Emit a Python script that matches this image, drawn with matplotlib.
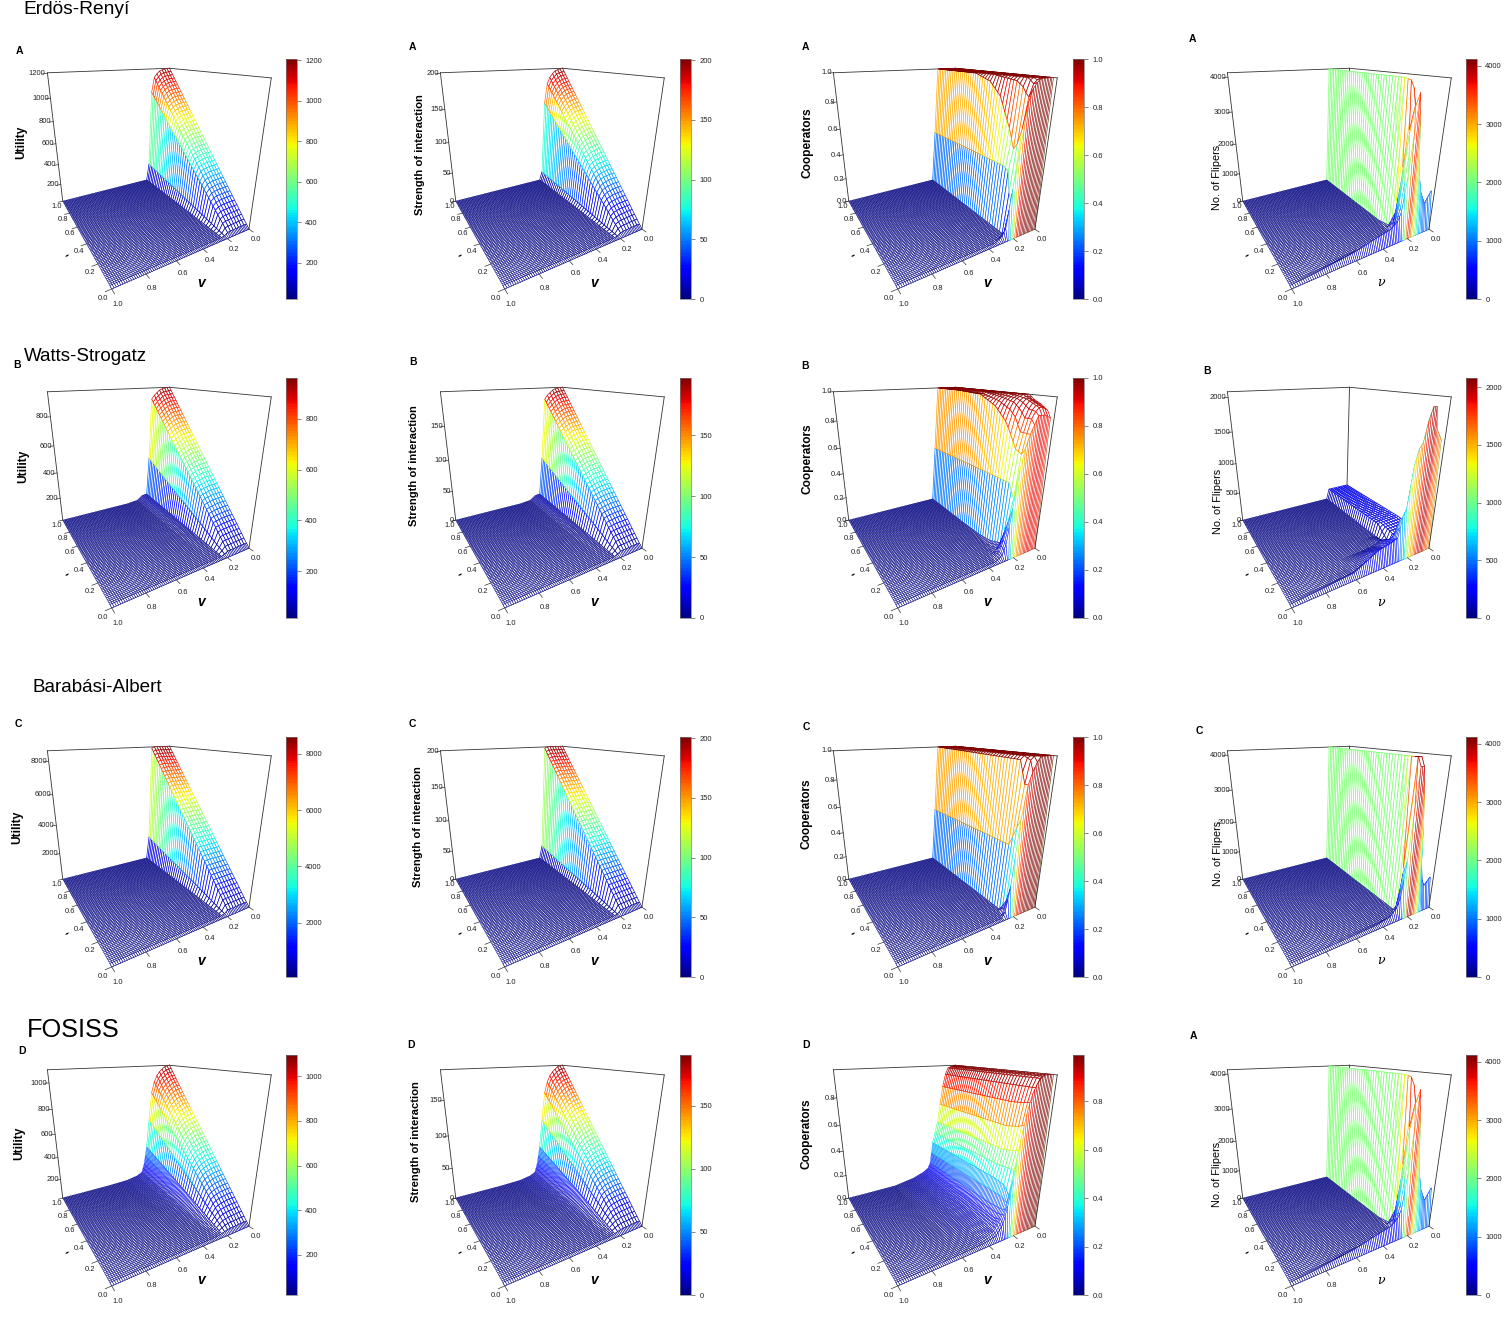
import numpy as np
import matplotlib
matplotlib.use("Agg")
import matplotlib.pyplot as plt
from matplotlib import colormaps
from matplotlib.cm import ScalarMappable
from matplotlib.colors import Normalize
from mpl_toolkits.mplot3d.art3d import Poly3DCollection

plt.rcParams["font.family"] = ["Liberation Sans", "DejaVu Sans"]

W, H = 1505, 1343

# values, in percent of each panel's z range.
# rows are lambda, columns are VK. The mesh is filled between these rows.
VK = [0, .05, .075, .1, .125, .15, .175, .2, .225, .25, .275, .325, .425, .6, .85, 1]

LAM_ER_UTIL = [0, 1]
ER_UTIL = [[0] * 16,
           [100, 99.5, 99, 98, 96, 93, 81, 16, 0, 0, 0, 0, 0, 0, 0, 0]]
LAM_ER_STR = [0, 1]
ER_STR = [[0] * 16,
          [100, 99, 98, 96, 93, 88, 72, 8, 0, 0, 0, 0, 0, 0, 0, 0]]
LAM_WS_UTIL = [0, 1]
WS_UTIL = [[0] * 16,
           [100, 99.5, 99, 98, 96, 94, 91, 40, 5, 5, 4.5, 1, 0, 0, 0, 0]]
LAM_BA_UTIL = [0, 1]
BA_UTIL = [[0] * 16,
           [100, 100, 100, 100, 100, 100, 99, 21, 0, 0, 0, 0, 0, 0, 0, 0]]
LAM_BA_STR = [0, 1]
BA_STR = [[0] * 16,
          [100, 100, 100, 100, 100, 100, 99, 12, 0, 0, 0, 0, 0, 0, 0, 0]]
LAM_FO_UTIL = [0, 1]
FO_UTIL = [[0] * 16,
           [100, 99, 97, 95, 92, 87, 78, 55, 30, 14, 6, 3.5, 1.5, .7, .3, .2]]

LAM_ER_COOP = [0, .025, .05, .075, .1, .15, .25, .35, .5, 1]
ER_COOP = [[0] * 16,
           [100, 100, 100, 100, 98, 95, 88, 60, 35, 8, 3, 0, 0, 0, 0, 0],
           [100, 100, 100, 99, 97, 90, 72, 25, 3, 0, 0, 0, 0, 0, 0, 0],
           [100, 100, 100, 100, 99, 92, 62, 30, 0, 0, 0, 0, 0, 0, 0, 0],
           [100, 100, 100, 100, 100, 95, 58, 44, 0, 0, 0, 0, 0, 0, 0, 0],
           [100, 100, 100, 100, 100, 98, 70, 46, 0, 0, 0, 0, 0, 0, 0, 0],
           [100, 100, 100, 100, 100, 99, 88, 46, 0, 0, 0, 0, 0, 0, 0, 0],
           [100, 100, 100, 100, 100, 100, 96, 46, 0, 0, 0, 0, 0, 0, 0, 0],
           [100, 100, 100, 100, 100, 100, 100, 46, 0, 0, 0, 0, 0, 0, 0, 0],
           [100, 100, 100, 100, 100, 100, 100, 46, 0, 0, 0, 0, 0, 0, 0, 0]]
LAM_WS_COOP = [0, .025, .05, .1, .15, .2, .3, .45, .7, 1]
WS_COOP = [[0] * 16,
           [88, 90, 90, 90, 85, 80, 72, 60, 35, 10, 3, 0, 0, 0, 0, 0],
           [92, 94, 94, 92, 88, 80, 68, 40, 25, 12, 4, 0, 0, 0, 0, 0],
           [95, 96, 96, 93, 88, 80, 70, 49, 6, 3, 1, 0, 0, 0, 0, 0],
           [97, 98, 98, 96, 93, 88, 78, 49, 4, 1, 0, 0, 0, 0, 0, 0],
           [100, 100, 99, 98, 96, 92, 85, 49, 2, 0, 0, 0, 0, 0, 0, 0],
           [100, 100, 100, 99, 98, 96, 93, 49, .5, 0, 0, 0, 0, 0, 0, 0],
           [100, 100, 100, 100, 100, 99, 99, 49, 0, 0, 0, 0, 0, 0, 0, 0],
           [100, 100, 100, 100, 100, 100, 100, 49, 0, 0, 0, 0, 0, 0, 0, 0],
           [100, 100, 100, 100, 100, 100, 100, 49, 0, 0, 0, 0, 0, 0, 0, 0]]
LAM_BA_COOP = [0, .025, .05, .1, 1]
BA_COOP = [[0] * 16,
           [100, 100, 100, 100, 97, 92, 85, 65, 22, 4, 0, 0, 0, 0, 0, 0],
           [100, 100, 100, 100, 100, 98, 85, 60, 10, 0, 0, 0, 0, 0, 0, 0],
           [100, 100, 100, 100, 100, 100, 98, 47, 0, 0, 0, 0, 0, 0, 0, 0],
           [100, 100, 100, 100, 100, 100, 100, 47, 0, 0, 0, 0, 0, 0, 0, 0]]
LAM_FO_COOP = [0, .025, .05, .1, .2, 1]
FO_COOP = [[0] * 16,
           [100, 100, 100, 98, 95, 90, 80, 65, 40, 22, 10, 3, 1, .4, 0, 0],
           [100, 99, 98, 93, 85, 72, 57, 44, 28, 18, 12, 5, 1.5, .5, .1, 0],
           [100, 99, 98, 93, 84, 70, 55, 44, 33, 17, 10, 5, 2, .6, .1, 0],
           [100, 99, 98, 93, 83, 68, 53, 43, 34, 16, 10, 6, 3, .6, .1, 0],
           [100, 99, 98, 93, 83, 68, 53, 43, 34, 15, 10, 7, 3.5, .5, .1, 0]]

LAM_ER_FLIP = [0, .025, .05, .075, .1, .15, .25, 1]
ER_FLIP = [[0] * 16,
           [28, 20, 25, 30, 40, 55, 75, 93, 45, 20, 14, 10, 8, 4, 1, 0],
           [5, 4, 5, 10, 20, 30, 60, 85, 70, 25, 8, 3, 2, 1, 0, 0],
           [0, 0, 0, 5, 15, 50, 85, 95, 40, 3, 0, 0, 0, 0, 0, 0],
           [0, 0, 0, 0, 5, 20, 70, 99, 15, 0, 0, 0, 0, 0, 0, 0],
           [0, 0, 0, 0, 0, 5, 20, 100, 2, 0, 0, 0, 0, 0, 0, 0],
           [0, 0, 0, 0, 0, 0, 0, 100, 0, 0, 0, 0, 0, 0, 0, 0],
           [0, 0, 0, 0, 0, 0, 0, 100, 0, 0, 0, 0, 0, 0, 0, 0]]
LAM_WS_FLIP = [0, .025, .05, .1, .2, .3, 1]
WS_FLIP = [[0] * 16,
           [75, 82, 95, 95, 88, 75, 72, 62, 35, 30, 16, 14, 12, 3, 1, 0],
           [5, 5, 5, 5, 8, 10, 12, 12, 20, 25, 14, 10, 8, 1, 0, 0],
           [3, 3, 3, 3, 3, 4, 5, 5, 2, 10, 10, 6, 6, 0, 0, 0],
           [8, 8, 8, 8, 8, 8, 8, 2, 1, 3, 3, 1, 0, 0, 0, 0],
           [9.5, 9.5, 9.5, 9.5, 9.5, 9.5, 9.5, 9.5, 0, 0, 0, 0, 0, 0, 0, 0],
           [9.5, 9.5, 9.5, 9.5, 9.5, 9.5, 9.5, 9.5, 0, 0, 0, 0, 0, 0, 0, 0]]
LAM_BA_FLIP = [0, .025, .05, .075, .1, .15, 1]
BA_FLIP = [[0] * 16,
           [22, 17, 22, 35, 60, 80, 95, 95, 40, 15, 8, 3, 1, .5, 0, 0],
           [3, 2, 3, 10, 40, 85, 100, 100, 30, 3, 0, 0, 0, 0, 0, 0],
           [0, 0, 0, 5, 20, 60, 100, 100, 5, 0, 0, 0, 0, 0, 0, 0],
           [0, 0, 0, 0, 0, 5, 30, 100, 0, 0, 0, 0, 0, 0, 0, 0],
           [0, 0, 0, 0, 0, 0, 0, 100, 0, 0, 0, 0, 0, 0, 0, 0],
           [0, 0, 0, 0, 0, 0, 0, 100, 0, 0, 0, 0, 0, 0, 0, 0]]

SHAPES = [[(LAM_ER_UTIL, ER_UTIL), (LAM_ER_STR, ER_STR), (LAM_ER_COOP, ER_COOP), (LAM_ER_FLIP, ER_FLIP)],
          [(LAM_WS_UTIL, WS_UTIL), (LAM_WS_UTIL, WS_UTIL), (LAM_WS_COOP, WS_COOP), (LAM_WS_FLIP, WS_FLIP)],
          [(LAM_BA_UTIL, BA_UTIL), (LAM_BA_STR, BA_STR), (LAM_BA_COOP, BA_COOP), (LAM_BA_FLIP, BA_FLIP)],
          [(LAM_FO_UTIL, FO_UTIL), (LAM_FO_UTIL, FO_UTIL), (LAM_FO_COOP, FO_COOP), (LAM_ER_FLIP, ER_FLIP)]]

ZLABELS = ["Utility", "Strength of interaction", "Cooperators", "No. of Flipers"]
ZLABEL_SIZE = [8.6, 8.1, 8.6, 7.8]
ZRANGE = [[(22, 1205), (0, 201), (0, 1), (0, 4120)],
          [(15, 961), (0, 197), (0, 1), (0, 2080)],
          [(70, 8600), (0, 201), (0, 1), (0, 4120)],
          [(20, 1095), (0, 190), (0, .99), (0, 4120)]]
ZTICKS = [[[200, 400, 600, 800, 1000, 1200], [0, 50, 100, 150, 200], [0, .2, .4, .6, .8, 1], [0, 1000, 2000, 3000, 4000]],
          [[200, 400, 600, 800], [0, 50, 100, 150], [0, .2, .4, .6, .8, 1], [0, 500, 1000, 1500, 2000]],
          [[2000, 4000, 6000, 8000], [0, 50, 100, 150, 200], [0, .2, .4, .6, .8, 1], [0, 1000, 2000, 3000, 4000]],
          [[200, 400, 600, 800, 1000], [0, 50, 100, 150], [0, .2, .4, .6, .8], [0, 1000, 2000, 3000, 4000]]]
LETTERS = [["A", "A", "A", "A"], ["B", "B", "B", "B"], ["C", "C", "C", "C"], ["D", "D", "D", "A"]]
LETTER_XY = [[(19, 51), (412, 47), (805, 47), (1192, 39)],
             [(17, 365), (413, 362), (805, 366), (1207, 371)],
             [(18, 724), (412, 724), (806, 727), (1199, 731)],
             [(22, 1051), (411, 1045), (806, 1045), (1193, 1036)]]
ZLABEL_XY = [[(21, 142), (420, 155), (808, 143), (1217, 177)],
             [(23, 466), (414, 466), (808, 459), (1218, 501)],
             [(17, 827), (418, 827), (806, 814), (1218, 853)],
             [(19, 1143), (416, 1142), (806, 1134), (1217, 1174)]]
TITLES = ["Erdös-Renyí", "Watts-Strogatz", "Barabási-Albert", "FOSISS"]
TITLE_XY = [(23, 10), (24, 356), (32, 688), (27, 1030)]
TITLE_SIZE = [13.8, 13.5, 13.6, 18.2]

COL_DX = [0, 393, 786, 1180]
ROW_DY = [0, 319, 678, 997]
CBAR_X = [286, 680, 1073, 1466]
CBAR_Y = [59, 378, 737, 1055]
AXIS_TICKS = [0, .2, .4, .6, .8, 1]

# camera, fitted to the box corners of the first panel
ELEV, AZIM, FOCAL = 19.97, 150.09, 0.2068
BOX = (1.0028, 1, 0.9941)
SCALE, TX, TY = 1338.64, 147.92, 150.80

jet = colormaps["jet"].resampled(100)
fig = plt.figure(figsize=(W / 100, H / 100), dpi=100)
# walls are wired every 0.025, the flat floor twice as fine
lam_wall = np.linspace(0, 1, 41)
v_wall = np.linspace(0, .225, 10)
lam_floor = np.linspace(0, 1, 81)
v_floor = np.linspace(.225, 1, 63)
v_skirt = np.linspace(0, 1, 81)


def fill_mesh(lam_g, v_g, lam_rows, table, zmin, zmax):
    table = np.array(table, float)
    by_lam = np.array([np.interp(lam_g, lam_rows, table[:, j]) for j in range(table.shape[1])])
    mesh = np.array([np.interp(v_g, VK, by_lam[:, i]) for i in range(len(lam_g))])
    return zmin + mesh / 100 * (zmax - zmin)


def facets(lam_g, v_g, z):
    lam2, v2 = np.meshgrid(lam_g, v_g, indexing="ij")
    stack = np.dstack([lam2, v2, z])
    verts = np.stack([stack[:-1, :-1], stack[1:, :-1], stack[1:, 1:], stack[:-1, 1:]], axis=2).reshape(-1, 4, 3)
    quad = (z[:-1, :-1] + z[1:, :-1] + z[1:, 1:] + z[:-1, 1:]) / 4
    return verts, quad.ravel()


def fmt(t, zmax):
    return f"{t:.1f}" if zmax <= 1 else f"{t:d}"


def draw_panel(r, c):
    dx, dy = COL_DX[c], ROW_DY[r]
    zmin, zmax = ZRANGE[r][c]
    lam_rows, table = SHAPES[r][c]
    size = SCALE * 0.185
    left = TX - SCALE * 0.095 + dx
    top = TY - SCALE * 0.09 + dy
    ax = fig.add_axes([left / W, 1 - (top + size) / H, size / W, size / H], projection="3d")
    ax.set_xlim(0, 1, view_margin=0)
    ax.set_ylim(0, 1, view_margin=0)
    ax.set_zlim(zmin, zmax, view_margin=0)
    ax.view_init(elev=ELEV, azim=AZIM)
    ax.set_proj_type("persp", focal_length=FOCAL)
    ax.set_box_aspect(BOX)
    ax.set_xticks([])
    ax.set_yticks([])
    ax.set_zticks([])
    ax.set_axis_off()
    ax.computed_zorder = False

    norm = Normalize(zmin, zmax)
    ln = dict(color="#333333", lw=0.6, clip_on=False)
    ax.plot([1, 1], [0, 0], [zmin, zmax], zorder=1, **ln)
    ax.plot([1, 0], [0, 0], [zmax, zmax], zorder=1, **ln)
    ax.plot([1, 1], [1, 0], [zmax, zmax], zorder=1, **ln)

    z = fill_mesh(lam_wall, v_wall, lam_rows, table, zmin, zmax)
    verts, quad = facets(lam_wall, v_wall, z)
    poly = Poly3DCollection(verts, facecolors="white", edgecolors=jet(norm(quad)), linewidths=0.48, zorder=2)
    ax.add_collection3d(poly)
    poly.set_clip_on(False)

    z = fill_mesh(lam_floor, v_floor, lam_rows, table, zmin, zmax)
    verts, quad = facets(lam_floor, v_floor, z)
    floor = Poly3DCollection(verts, facecolors="white", edgecolors=jet(norm(quad)), linewidths=0.33, zorder=2.2)
    ax.add_collection3d(floor)
    floor.set_clip_on(False)

    # near edge: the first lambda row stands up from the floor, finer hatch, colour of its top
    top_z = fill_mesh(lam_wall[:2], v_skirt, lam_rows, table, zmin, zmax)[1]
    a, b = v_skirt[:-1], v_skirt[1:]
    n = len(a)
    skirt = np.zeros((n, 4, 3))
    skirt[:, 0] = np.c_[np.zeros(n), a, np.full(n, zmin)]
    skirt[:, 1] = np.c_[np.full(n, lam_wall[1]), a, top_z[:-1]]
    skirt[:, 2] = np.c_[np.full(n, lam_wall[1]), b, top_z[1:]]
    skirt[:, 3] = np.c_[np.zeros(n), b, np.full(n, zmin)]
    skirt_col = jet(norm((top_z[:-1] + top_z[1:]) / 2))
    sk = Poly3DCollection(skirt, facecolors="white", edgecolors=skirt_col, linewidths=0.35, zorder=2.5)
    ax.add_collection3d(sk)
    sk.set_clip_on(False)

    ax.plot([1, 1], [1, 1], [zmin, zmax], zorder=3, **ln)
    ax.plot([0, 0], [0, 0], [zmin, zmax], zorder=3, **ln)

    h = zmax - zmin
    tk = dict(color="#333333", lw=0.5, zorder=3, clip_on=False)
    lab = dict(fontsize=5.5, color="#222222", va="center", ha="center", zorder=4, clip_on=False)
    for t in AXIS_TICKS:
        ax.plot([t, t], [1, 1.035], [zmin, zmin], **tk)
        ax.text(t, 1.05, zmin - .035 * h, f"{t:.1f}", **lab)
        ax.plot([0, -.035], [t, t], [zmin, zmin], **tk)
        ax.text(-.065, t, zmin - .04 * h, f"{t:.1f}", **lab)
    for t in ZTICKS[r][c]:
        ax.plot([1, 1], [1, 1.03], [t, t], **tk)
        ax.text(1, 1.012, t, fmt(t, zmax), fontsize=5.5, color="#222222", va="center", ha="right", zorder=4, clip_on=False)

    # colour key
    x0, y0 = CBAR_X[c], CBAR_Y[r]
    cax = fig.add_axes([x0 / W, 1 - (y0 + 240) / H, 11 / W, 240 / H])
    cb = fig.colorbar(ScalarMappable(norm=norm, cmap=jet), cax=cax)
    cb.set_ticks(ZTICKS[r][c])
    cb.set_ticklabels([fmt(t, zmax) for t in ZTICKS[r][c]])
    cb.ax.tick_params(length=3, width=0.5, labelsize=5.5, pad=3, color="#555555", labelcolor="#222222")
    cb.outline.set_linewidth(0.5)
    cb.outline.set_edgecolor("#777777")

    # texts
    lx, ly = LETTER_XY[r][c]
    fig.text(lx / W, 1 - ly / H, LETTERS[r][c], fontsize=7.5, fontweight="bold", ha="center", va="center")
    zx, zy = ZLABEL_XY[r][c]
    flip = c == 3
    fig.text(zx / W, 1 - zy / H, ZLABELS[c], fontsize=ZLABEL_SIZE[c], rotation=90, ha="center", va="center",
             fontweight="normal" if flip else "bold")
    if flip:
        fig.text((201 + dx) / W, 1 - (283 + dy) / H, "ν", fontsize=9, family="DejaVu Serif", style="italic", ha="center", va="center")
    else:
        fig.text((201 + dx) / W, 1 - (283 + dy) / H, "v", fontsize=10, fontweight="bold", style="italic", ha="center", va="center")
    fig.text((67 + dx) / W, 1 - (255.5 + dy) / H, "-", fontsize=9, rotation=30, fontweight="bold", ha="center", va="center")


for r in range(4):
    for c in range(4):
        draw_panel(r, c)
for t, (x, y), s in zip(TITLES, TITLE_XY, TITLE_SIZE):
    fig.text(x / W, 1 - y / H, t, fontsize=s, ha="left", va="center")

fig.savefig("out.png", dpi=100)
